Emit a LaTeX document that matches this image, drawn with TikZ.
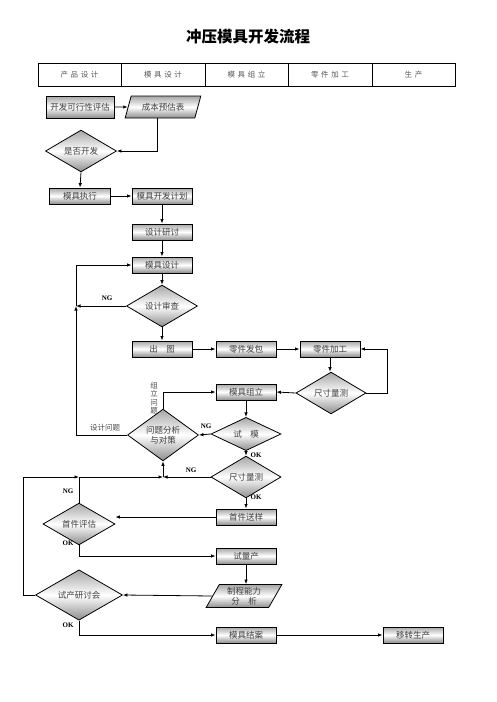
\documentclass[tikz,border=0pt]{standalone}
\usepackage{fontspec}
\setmainfont{Liberation Serif}
\newfontfamily\cjk{Noto Sans CJK SC}
\newfontfamily\cjkhd[LetterSpace=35]{Noto Sans CJK SC}
\usetikzlibrary{shapes.geometric,arrows.meta}
\begin{document}
\begin{tikzpicture}[x=1pt,y=-1pt,
  shd/.style={top color=gray!70, bottom color=gray!90, middle color=white},
  box/.style={draw, line width=0.9pt, rectangle, minimum width=60pt, minimum height=16pt, inner sep=0pt, shd, font=\cjk\fontsize{8.5}{9}\selectfont, text=black!75},
  dia/.style={draw, line width=0.8pt, diamond, inner sep=0pt, shd, font=\cjk\fontsize{8.5}{10}\selectfont, text=black!75, align=center},
  para/.style={draw, line width=0.8pt, trapezium, trapezium left angle=63, trapezium right angle=117, trapezium stretches=true, inner sep=0pt, shd, font=\cjk\fontsize{8.5}{10}\selectfont, text=black!75, align=center},
  hdr/.style={draw, line width=0.9pt, rectangle, minimum height=23pt, inner sep=0pt, font=\cjkhd\fontsize{7.5}{8}\selectfont, text=black!65},
  ln/.style={line width=0.8pt},
  ar/.style={line width=0.8pt, -{Latex[length=4.5pt,width=3.5pt]}},
  lab/.style={font=\bfseries\fontsize{7}{8}\selectfont},
  clab/.style={font=\cjk\fontsize{7.5}{8.5}\selectfont, text=black!70, align=center, inner sep=0pt}
]
\useasboundingbox (0,0) rectangle (496,702);
\node[font=\cjk\bfseries\fontsize{15.5}{16}\selectfont] (title) at (248,37) {冲压模具开发流程};
% header
\node[hdr, minimum width=83pt] (h1) at (79.5,74.5) {产品设计};
\node[hdr, minimum width=84pt] (h2) at (163,74.5) {模具设计};
\node[hdr, minimum width=83pt] (h3) at (246.5,74.5) {模具组立};
\node[hdr, minimum width=84pt] (h4) at (330,74.5) {零件加工};
\node[hdr, minimum width=83pt] (h5) at (413.5,74.5) {生产};
% nodes
\node[box, minimum width=68pt, minimum height=22pt] (b1) at (80,107) {开发可行性评估};
\node[para, minimum width=76pt, minimum height=22pt] (p1) at (163,107) {成本预估表};
\node[dia, minimum width=71pt, minimum height=32pt] (d1) at (81,151) {是否开发};
\node[box, minimum width=61pt] (b2) at (80,196) {模具执行};
\node[box] (b3) at (162,196) {模具开发计划};
\node[box] (b4) at (162,232) {设计研讨};
\node[box] (b5) at (162,265) {模具设计};
\node[dia, minimum width=71pt, minimum height=26pt] (d2) at (162,306) {设计审查};
\node[box] (b6) at (162,349) {出\quad 图};
\node[box] (b7) at (246,349) {零件发包};
\node[box] (b8) at (330,349) {零件加工};
\node[dia, minimum width=70pt, minimum height=27pt] (d3) at (331,393) {尺寸量测};
\node[box] (b9) at (246,392) {模具组立};
\node[dia, minimum width=70pt, minimum height=27pt] (d4) at (246,434) {试\quad 模};
\node[dia, minimum width=70pt, minimum height=27pt] (d5) at (246,477) {尺寸量测};
\node[dia, minimum width=71pt, minimum height=39pt] (d6) at (163,435) {问题分析\\与对策};
\node[box] (b10) at (246,517) {首件送样};
\node[dia, minimum width=72pt, minimum height=28pt] (d7) at (79,524) {首件评估};
\node[box] (b11) at (246,556) {试量产};
\node[para, minimum width=76pt, minimum height=23pt] (p2) at (244,596) {制程能力\\分\quad 析};
\node[dia, minimum width=87pt, minimum height=27pt] (d8) at (79,595) {试产研讨会};
\node[box] (b12) at (246,635) {模具结案};
\node[box] (b13) at (413,635) {移转生产};
% junctions
\coordinate (j1) at (76,306);
\coordinate (j2) at (163,477);
\coordinate (j3) at (79,477);
% connectors
\draw[ar] (b1.east) -- (p1.west);
\draw[ar] ([xshift=-6pt]p1.south) |- (d1.east);
\draw[ar] (d1.south) -- (b2.north);
\draw[ar] (b2.east) -- (b3.west);
\draw[ar] (b3.south) -- (b4.north);
\draw[ar] (b4.south) -- (b5.north);
\draw[ar] (b5.south) -- (d2.north);
\draw[ar] (d2.west) -- (j1);
\draw[ar] (j1) |- (b5.west);
\draw[ar] (d6.west) -- (d6.west -| j1) -- (j1);
\draw[ar] (d2.south) -- (b6.north);
\draw[ar] (b6.east) -- (b7.west);
\draw[ar] (b7.east) -- (b8.west);
\draw[ar] (b8.south) -- (b8.south |- d3.north);
\draw[ar] (d3.east) -- (387,393) |- (b8.east);
\draw[ar] (d3.west) -- (b9.east);
\draw[ar] (b9.south) -- (b9.south |- d4.north);
\draw[ar] (d4.west) -- (d6.east);
\draw[ar] (d4.south) -- (d5.north);
\draw[ar] (d6.north) |- (b9.west);
\draw[ar] (d5.west) -- (j2);
\draw[ar] (j2) -- (d6.south);
\draw[ar] (d5.south) -- (d5.south |- b10.north);
\draw[ar] (b10.west) -- (b10.west -| d7.east);
\draw[ln] (d7.north) -- (j3);
\draw[ar] (j3) -- (j2);
\draw[ar] (d7.south) |- (b11.west);
\draw[ar] (b11.south) -- (b11.south |- p2.north);
\draw[ar] (p2.west) -- (d8.east);
\draw[ar] (d8.west) -- (23,595) -- (23,477) -- (j3);
\draw[ar] (d8.south) |- (b12.west);
\draw[ar] (b12.east) -- (b13.west);
% labels
\node[lab] (l1) at (107,298) {NG};
\node[clab] (l2) at (105,428) {设计问题};
\node[clab] (l3) at (154,398) {组\\立\\问\\题};
\node[lab] (l4) at (206,426) {NG};
\node[lab] (l5) at (256,455) {OK};
\node[lab] (l6) at (191,470) {NG};
\node[lab] (l7) at (256,497) {OK};
\node[lab] (l8) at (68,491) {NG};
\node[lab] (l9) at (68,543) {OK};
\node[lab] (l10) at (68,625) {OK};
\end{tikzpicture}
\end{document}
